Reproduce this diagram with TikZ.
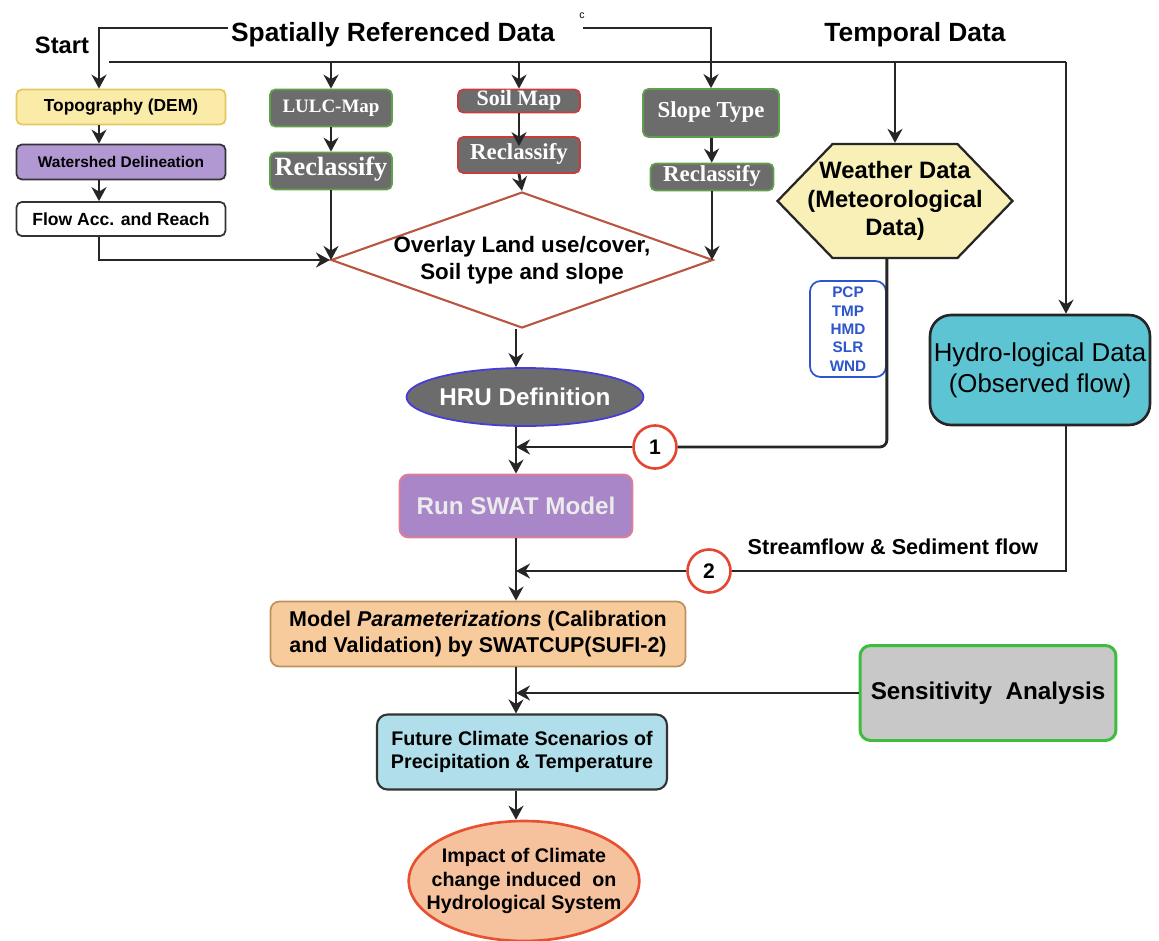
\documentclass[tikz,border=0pt]{standalone}
\usepackage{fontspec}
\setmainfont{Liberation Sans}
\newfontfamily\serifbold{Liberation Serif}
\usetikzlibrary{positioning,arrows.meta,calc,shapes.geometric,shapes.symbols}
\definecolor{topoyel}{RGB}{250,236,168}
\definecolor{topoedge}{RGB}{228,200,95}
\definecolor{shedpur}{RGB}{178,152,210}
\definecolor{mapgray}{RGB}{108,108,108}
\definecolor{mapgreen}{RGB}{95,160,75}
\definecolor{mapred}{RGB}{200,60,60}
\definecolor{overlayred}{RGB}{185,85,65}
\definecolor{hrublue}{RGB}{70,60,215}
\definecolor{wxyel}{RGB}{248,240,182}
\definecolor{varblue}{RGB}{45,85,205}
\definecolor{hydroteal}{RGB}{92,196,210}
\definecolor{swatpur}{RGB}{168,134,200}
\definecolor{swatedge}{RGB}{228,125,145}
\definecolor{paramtan}{RGB}{248,203,157}
\definecolor{paramedge}{RGB}{190,145,95}
\definecolor{sensgray}{RGB}{200,200,200}
\definecolor{sensgreen}{RGB}{60,190,60}
\definecolor{futblue}{RGB}{176,223,235}
\definecolor{impfill}{RGB}{246,194,157}
\definecolor{impred}{RGB}{232,80,50}
\definecolor{ringred}{RGB}{228,70,50}
\newcommand{\fs}[1]{\pgfmathsetmacro\fsbase{#1*1.2}\fontsize{#1}{\fsbase}\selectfont}
\tikzset{
  box/.style={rectangle, rounded corners=3pt, draw=black!80, line width=1pt, align=center,
              inner sep=1pt, font=\bfseries},
  topobox/.style={box, draw=topoedge, fill=topoyel},
  shedbox/.style={box, fill=shedpur},
  flowbox/.style={box, fill=white},
  mapbox/.style={box, draw=mapgreen, fill=mapgray, text=white, inner ysep=0pt,
                 text height=0.7em, text depth=0.2em},
  soilbox/.style={mapbox, draw=mapred},
  overlay/.style={diamond, shape aspect=2.8, draw=overlayred, line width=1.2pt, fill=white,
                  align=center, inner sep=-2pt, font=\bfseries\fs{12.7}},
  hrubox/.style={ellipse, draw=hrublue, line width=1pt, fill=mapgray, text=white,
                 inner xsep=-1pt, font=\bfseries\fs{13.8}},
  ring/.style={circle, draw=ringred, line width=1.5pt, fill=white, minimum size=0.86cm,
               inner sep=0pt, font=\bfseries\fs{12}},
  wxbox/.style={signal, signal to=east and west, signal pointer angle=92, draw=black!85,
                line width=1.3pt, fill=wxyel, align=center, inner xsep=-15pt, inner ysep=0pt,
                font=\bfseries\fs{13.5}},
  varbox/.style={rectangle, rounded corners=6pt, draw=varblue, line width=1pt, fill=white,
                 align=center, text=varblue, font=\bfseries\fs{8.7}, inner sep=1pt},
  hydrobox/.style={rectangle, rounded corners=12pt, draw=black!85, line width=1.5pt,
                   fill=hydroteal, align=center, inner sep=0pt, font=\fs{14.7}},
  swatbox/.style={box, rounded corners=5pt, draw=swatedge, fill=swatpur, text=white!92!black,
                  font=\bfseries\fs{13.8}},
  parambox/.style={box, rounded corners=5pt, draw=paramedge, fill=paramtan, font=\bfseries\fs{12.2}},
  sensbox/.style={box, rounded corners=6pt, draw=sensgreen, line width=1.7pt, fill=sensgray,
                  font=\bfseries\fs{13.8}},
  futbox/.style={box, rounded corners=6pt, line width=1.2pt, fill=futblue, font=\bfseries\fs{11.2}},
  impbox/.style={ellipse, draw=impred, line width=1.5pt, fill=impfill, align=center,
                 inner xsep=-9pt, inner ysep=0pt, font=\bfseries\fs{11.2}},
  head/.style={font=\bfseries\fs{13.5}},
  edge/.style={-{Stealth[length=2.8mm, width=3mm]}, line width=1.6pt, black!85},
  line/.style={line width=1.6pt, black!85}
}
\begin{document}
\begin{tikzpicture}[x=0.02cm, y=-0.02cm]
\useasboundingbox (0,0) rectangle (1159,940);
% headings
\node[head] (start) at (62,45) {Start};
\node[head, font=\bfseries\fs{15}] (spatial) at (393,35) {Spatially Referenced Data};
\node[font=\fs{6}] (cmark) at (582,16) {c};
\node[head, font=\bfseries\fs{15}] (temporal) at (915,35) {Temporal Data};
\coordinate (sptl) at (228,28);
\coordinate (corner) at (99,28);
\coordinate (spcr) at (583,28);
\coordinate (busw) at (109,62);
\coordinate (buse) at (1066,62);
% DEM column
\node[topobox, minimum width=4.18cm, minimum height=0.7cm, font=\bfseries\fs{9.9}] (topo) at (121,107) {Topography (DEM)};
\node[shedbox, minimum width=4.18cm, minimum height=0.7cm, font=\bfseries\fs{8.8}] (shed) at (121,162) {Watershed Delineation};
\node[flowbox, minimum width=4.18cm, minimum height=0.68cm, font=\bfseries\fs{10}] (flow) at (121,219) {Flow Acc. and Reach};
% map columns
\node[mapbox, minimum width=2.44cm, minimum height=0.74cm, font=\serifbold\bfseries\fs{10.8}] (lulc) at (331,108) {LULC-Map};
\node[mapbox, minimum width=2.44cm, minimum height=0.74cm, font=\serifbold\bfseries\fs{15}] (lulcre) at (331,171) {Reclassify};
\node[soilbox, minimum width=2.44cm, minimum height=0.46cm, font=\serifbold\bfseries\fs{12.5}] (soil) at (519,101) {Soil Map};
\node[soilbox, minimum width=2.44cm, minimum height=0.72cm, font=\serifbold\bfseries\fs{13}] (soilre) at (519,155) {Reclassify};
\node[mapbox, minimum width=2.72cm, minimum height=0.96cm, font=\serifbold\bfseries\fs{13}] (slope) at (711,113) {Slope Type};
\node[mapbox, minimum width=2.46cm, minimum height=0.54cm, font=\serifbold\bfseries\fs{13}] (slopere) at (712,177) {Reclassify};
\node[overlay, minimum width=7.64cm, minimum height=2.72cm] (ovl) at (522,260) {Overlay Land use/cover,\\Soil type and slope};
\node[hrubox, minimum width=4.68cm, minimum height=1.16cm] (hru) at (525,397) {HRU Definition};
% temporal side
\node[wxbox, minimum width=4.7cm, minimum height=2.28cm] (wx) at (895,201) {Weather Data\\(Meteorological\\Data)};
\node[varbox, minimum width=1.52cm, minimum height=1.92cm] (vars) at (848,329) {PCP\\TMP\\HMD\\SLR\\WND};
\node[hydrobox, minimum width=4.4cm, minimum height=2.2cm] (hydro) at (1040,370) {Hydro-logical Data\\(Observed flow)};
\node[ring] (c1) at (655,447) {1};
\node[swatbox, minimum width=4.66cm, minimum height=1.26cm] (swat) at (516,506) {Run SWAT Model};
\node[ring] (c2) at (709,571) {2};
\node[font=\bfseries\fs{12.3}] (stream) at (893,547) {Streamflow \& Sediment flow};
\node[parambox, minimum width=8.3cm, minimum height=1.3cm] (param) at (478,634) {Model \textit{Parameterizations} (Calibration\\and Validation) by SWATCUP(SUFI-2)};
\node[sensbox, minimum width=5.12cm, minimum height=1.9cm] (sens) at (988,693) {Sensitivity\ \ Analysis};
\node[futbox, minimum width=5.8cm, minimum height=1.5cm] (fut) at (522,752) {Future Climate Scenarios of\\Precipitation \& Temperature};
\node[impbox, minimum width=4.56cm, minimum height=2.4cm] (imp) at (524,881) {Impact of Climate\\change induced\ \ on\\Hydrological System};
% connectors
\draw[edge] (sptl) -- (corner) -- (corner |- topo.north);
\draw[edge] (spcr) -| (slope.north);
\draw[line] (busw) -- (buse);
\draw[edge] (buse) -- (buse |- hydro.north);
\draw[edge] (lulc.north |- busw) -- (lulc.north);
\draw[edge] (soil.north |- busw) -- (soil.north);
\draw[edge] (wx.north |- busw) -- (wx.north);
\draw[edge] (corner |- topo.south) -- (corner |- shed.north);
\draw[edge] (corner |- shed.south) -- (corner |- flow.north);
\draw[edge] (corner |- flow.south) |- (ovl.west);
\draw[edge] (lulc) -- (lulcre);
\draw[edge] (lulcre.south) -- (lulcre.south |- ovl.west);
\draw[edge] (soil.south) -- ($(soilre.north)+(0,10)$);
\draw[edge] (soilre.south) -- (ovl.north);
\draw[edge] (slope) -- (slopere);
\draw[edge] (slopere.south) -- (slopere.south |- ovl.east);
\draw[edge] (ovl.south -| swat.north) -- (swat.north |- hru.north);
\draw[edge] (swat.north |- hru.south) -- (swat.north);
\draw[line, rounded corners=4pt] (vars.east |- wx.south) |- (c1.east);
\draw[edge] (c1.west) -- (c1.west -| swat.north);
\draw[line] (hydro.south -| buse) |- (c2.east);
\draw[edge] (c2.west) -- (c2.west -| swat.north);
\draw[edge] (swat.south) -- (swat.south |- param.north);
\draw[edge] (swat.south |- param.south) -- (swat.south |- fut.north);
\draw[edge] (sens.west) -- (sens.west -| swat.south);
\draw[edge] (swat.south |- fut.south) -- (swat.south |- imp.north);
\end{tikzpicture}
\end{document}
